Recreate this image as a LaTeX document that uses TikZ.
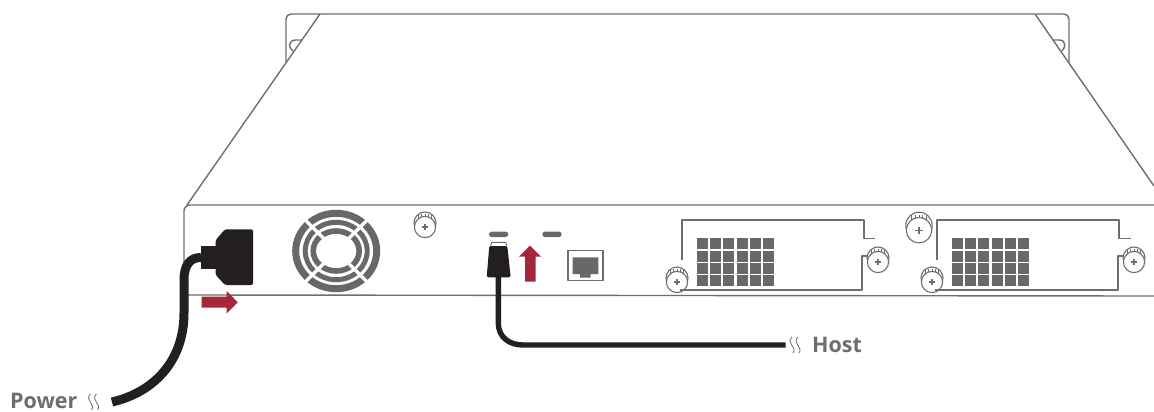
\documentclass[tikz,border=0pt]{standalone}
\usepackage{fontspec}
\setmainfont{Open Sans}
\definecolor{linegray}{HTML}{6D6E71}
\definecolor{fillgray}{HTML}{68686B}
\definecolor{cableblack}{HTML}{231F20}
\definecolor{arrowred}{HTML}{A6263A}

\tikzstyle{chassis} = [draw=linegray, line width=1.4pt, line join=round]
\tikzstyle{cable} = [draw=cableblack, line cap=butt]
\tikzstyle{plug} = [fill=cableblack, rounded corners=1.5pt]
\tikzstyle{push} = [fill=arrowred]
\tikzstyle{vent} = [fill=fillgray]
\tikzstyle{portlabel} = [text=linegray, font=\fontsize{21.5}{21.5}\selectfont\bfseries, inner sep=0pt, anchor=base west]
\tikzstyle{breakmark} = [draw=linegray, line width=0.8pt]

\newcommand{\thumbscrew}[3]{
\begin{scope}[shift={(#1,#2)}, scale=#3]
\draw [chassis, line width=1.1pt, fill=white] (0,-3) circle (11);
\foreach \tick in {-6.5,-3.2,0,3.2,6.5} {
  \draw [chassis, line width=0.9pt] (\tick,-12) -- (\tick,-5);
}
\draw [chassis, line width=1.1pt, fill=white] (0,1) circle (10.6);
\draw [chassis, line width=1.3pt] (-3,1) -- (3,1) (0,-2) -- (0,4);
\end{scope}
}
\newcommand{\squiggle}[2]{
\begin{scope}[shift={(#1,#2)}]
\draw [breakmark] (1.5,0) .. controls (-5,6) and (7,10) .. (2.5,16);
\draw [breakmark] (7.5,0) .. controls (1,6) and (13,10) .. (8.5,16);
\end{scope}
}
\newcommand{\ventgrid}[1]{
\begin{scope}[shift={(#1,0)}]
\foreach \col in {0,13.3,26,40,53.3,66} {
  \foreach \row in {237.7,250.5,262.7,275} {
    \fill [vent] (\col,\row) rectangle ++(11.2,11.2);
  }
}
\end{scope}
}

\begin{document}
\begin{tikzpicture}[x=1pt, y=-1pt]
\useasboundingbox (0,0) rectangle (1154,412);

\draw [chassis, rounded corners=5pt] (286,63) -- (286,14) -- (1069,14) -- (1069,63);
\draw [chassis] (320,14) -- (187,205);
\draw [chassis] (1035,14) -- (1154,186);
\draw [chassis] (302,40) -- (296,40) .. controls (288,40) and (288,48) .. (293,51);
\draw [chassis] (1053,40) -- (1059,40) .. controls (1066,40) and (1066,47) .. (1062,51);
\draw [chassis, rounded corners=6pt] (1154,205) -- (184,205) -- (184,295) -- (1154,296);

\draw [draw=fillgray, line width=7pt] (336.2,251) ellipse [x radius=40.5, y radius=37.7];
\draw [draw=fillgray, line width=5pt] (336.2,251) ellipse [x radius=31, y radius=28.7];
\draw [draw=fillgray, line width=5.6pt] (336.2,251) ellipse [x radius=23, y radius=20];
\foreach \ang in {45,135,225,315} {
  \draw [draw=white, line width=3.4pt] (336.2,251) ++(\ang:14) -- ++(\ang:34);
}

\thumbscrew{425}{226}{1}
\thumbscrew{677}{281}{1}
\thumbscrew{878}{261}{1}
\thumbscrew{919}{229}{1.2}
\thumbscrew{932}{281}{1}
\thumbscrew{1134}{261}{1}

\draw [chassis] (682,260) -- (682,220) -- (864,220) -- (864,238.5) -- (875,238.5);
\draw [chassis] (680,290) -- (862,290) -- (862,256) -- (868,256);
\draw [chassis] (937,260) -- (937,220) -- (1119,220) -- (1119,238.5) -- (1131,238.5);
\draw [chassis] (935,290) -- (1118,290) -- (1118,256) -- (1124,256);
\ventgrid{696.7}
\ventgrid{951.7}

\fill [vent, rounded corners=2.6pt] (489,231.7) rectangle (508.3,237);
\fill [vent, rounded corners=2.6pt] (542.3,231.7) rectangle (561.7,237);
\draw [chassis, line width=1.5pt] (568,250.5) rectangle (603,280.3);
\fill [vent] (572.7,257.3) -- (598.3,257.3) -- (598.3,274) -- (590.7,274) -- (590.7,277.5) -- (580,277.5) -- (580,274) -- (572.7,274) -- cycle;

\coordinate (powerin) at (201,257.5);
\coordinate (powerend) at (112,402);
\coordinate (hostin) at (498.3,276);
\coordinate (hostend) at (785.7,345);

\draw [cable, line width=9pt] (powerin) .. controls (190,257.5) and (184,265) .. (184,280) -- (184,313) .. controls (184,360) and (155,392) .. (powerend);
\draw [cable, line width=5.4pt] (hostin) -- (498.3,323) .. controls (498.3,337) and (509,345) .. (523,345) -- (hostend);

\fill [cableblack] (200.7,246) rectangle (216,269.3);
\fill [plug] (215.7,240) -- (225,229.3) -- (253,229.3) -- (253,285) -- (225,285) -- (215.7,275) -- cycle;
\draw [chassis, line width=1pt] (490.7,246) -- (491.7,242.3) -- (505.7,242.3) -- (506.7,246);
\fill [plug] (489.3,246) -- (507.3,246) -- (510.7,277.3) -- (486.7,277.3) -- cycle;

\fill [push] (201.7,296.7) -- (226.7,296.7) -- (226.7,291) -- (237.7,302.3) -- (226.7,313.3) -- (226.7,307.7) -- (201.7,307.7) -- cycle;
\fill [push] (525,281.7) -- (525,256.7) -- (519,256.7) -- (530,245.7) -- (541,256.7) -- (535.7,256.7) -- (535.7,281.7) -- cycle;

\node (power) [portlabel] at (10,408) {Power};
\node (host) [portlabel] at (812,352) {Host};
\squiggle{89}{394}
\squiggle{790.5}{337}

\end{tikzpicture}
\end{document}
